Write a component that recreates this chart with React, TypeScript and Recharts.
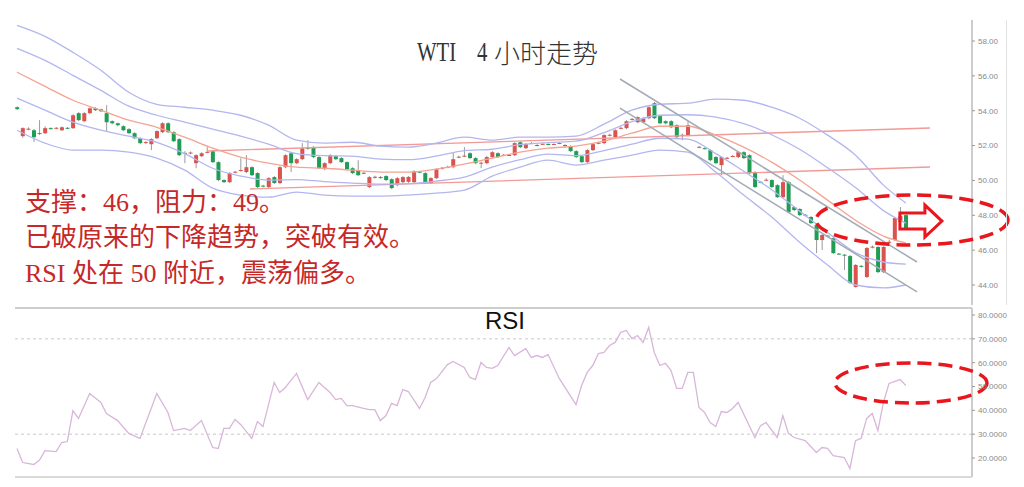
import React from "react";
import { ComposedChart, Bar, Line, XAxis, YAxis, ReferenceLine, ReferenceDot } from "recharts";

// WTI 4h candles: [open, high, low, close], null = empty slot
const CANDLES: ([number, number, number, number] | null)[] = [
  [54.2, 54.25, 54.05, 54.09], [52.54, 53.05, 52.45, 53.0], [52.95, 53.05, 52.88, 52.97], [52.88, 52.95, 52.2, 52.48],
  [52.68, 53.46, 52.6, 52.72], [52.71, 53.1, 52.65, 53.0], [53.0, 53.05, 52.92, 52.97], [52.98, 53.06, 52.94, 53.02],
  [52.88, 53.1, 52.83, 53.05], [53.02, 53.06, 52.94, 52.98], [53.0, 53.8, 52.95, 53.74], [53.86, 53.92, 53.4, 53.46],
  [53.4, 53.92, 53.34, 53.86], [53.86, 54.2, 53.8, 54.14], [54.14, 54.2, 53.98, 54.03], [54.08, 54.12, 53.92, 53.97],
  [53.86, 54.32, 52.83, 53.34], [53.4, 53.45, 53.22, 53.28], [53.28, 53.32, 53.1, 53.17], [53.11, 53.17, 52.83, 52.88],
  [52.94, 53.0, 52.65, 52.71], [52.71, 52.77, 52.37, 52.42], [52.42, 52.48, 52.08, 52.14], [52.17, 52.25, 52.1, 52.2],
  [52.08, 52.42, 51.74, 52.37], [52.42, 52.88, 52.37, 52.83], [52.77, 53.34, 52.71, 53.28], [53.28, 53.34, 52.71, 52.77],
  [52.77, 52.83, 52.2, 52.25], [52.37, 52.42, 51.4, 51.45], [51.58, 51.68, 50.99, 51.54], [51.56, 51.66, 51.5, 51.6],
  [50.99, 51.5, 50.7, 51.45], [51.39, 51.62, 51.34, 51.56], [51.6, 51.91, 51.56, 51.64], [51.68, 51.74, 51.0, 51.05],
  [51.05, 51.1, 49.96, 50.02], [50.02, 50.07, 49.85, 49.9], [49.9, 50.48, 49.85, 50.42], [50.46, 50.55, 50.4, 50.5],
  [50.57, 51.28, 50.5, 50.6], [50.48, 51.45, 50.42, 50.76], [50.76, 50.82, 50.25, 50.3], [50.42, 50.48, 49.56, 49.62],
  [49.7, 49.75, 49.6, 49.65], [49.62, 50.19, 49.56, 50.13], [50.19, 50.25, 49.8, 49.85], [49.85, 50.82, 49.79, 50.76],
  [50.76, 51.5, 50.7, 51.45], [51.56, 51.62, 50.48, 50.99], [50.99, 51.28, 50.93, 51.22], [51.22, 52.14, 51.16, 51.85],
  [51.88, 52.31, 51.76, 51.82], [51.91, 51.97, 51.28, 51.34], [51.34, 51.4, 50.65, 50.7], [50.65, 51.05, 50.59, 50.99],
  [50.99, 51.5, 50.93, 51.45], [51.39, 51.45, 51.16, 51.22], [51.28, 51.34, 51.0, 51.05], [51.05, 51.1, 50.59, 50.65],
  [50.7, 50.76, 50.36, 50.42], [50.59, 51.16, 50.25, 50.3], [50.4, 50.5, 50.36, 50.44], [49.62, 50.25, 49.56, 50.19],
  [50.17, 50.27, 50.1, 50.21], [50.19, 50.25, 50.1, 50.15], [50.25, 50.3, 49.96, 50.02], [50.07, 50.13, 49.5, 49.56],
  [49.73, 50.19, 49.67, 50.13], [49.9, 50.25, 49.85, 50.19], [49.92, 50.25, 49.86, 50.2], [49.9, 50.59, 49.85, 50.53],
  [50.5, 50.55, 50.42, 50.46], [50.42, 50.48, 49.8, 49.85], [49.85, 50.19, 49.8, 50.13], [50.13, 50.7, 50.07, 50.65],
  [50.68, 50.78, 50.62, 50.72], [50.74, 50.84, 50.7, 50.78], [50.76, 51.62, 50.7, 51.22], [51.32, 51.42, 51.28, 51.36],
  [51.38, 51.91, 51.34, 51.42], [51.56, 51.62, 51.22, 51.28], [51.28, 51.34, 50.93, 50.99], [50.99, 51.08, 50.7, 51.02],
  [50.99, 51.4, 50.93, 51.34], [51.34, 51.68, 51.28, 51.62], [51.56, 51.62, 51.28, 51.34], [51.45, 51.52, 51.4, 51.47],
  [51.46, 51.5, 51.4, 51.44], [51.45, 52.2, 51.4, 52.14], [52.19, 52.25, 51.85, 51.91], [51.85, 52.14, 51.8, 52.08],
  [52.13, 52.2, 52.08, 52.15], [52.03, 52.08, 51.96, 52.01], [52.08, 52.14, 52.03, 52.1], [52.09, 52.13, 52.02, 52.07],
  [52.07, 52.13, 52.02, 52.09], [52.13, 52.2, 52.08, 52.15], [52.03, 52.08, 51.95, 52.0], [51.97, 52.02, 51.62, 51.68],
  [51.68, 51.74, 51.28, 51.34], [51.39, 51.45, 50.99, 51.05], [51.05, 51.8, 50.99, 51.74], [51.74, 52.14, 51.68, 52.08],
  [52.13, 52.22, 52.08, 52.16], [52.14, 52.65, 52.08, 52.6], [52.58, 52.68, 52.53, 52.62], [52.48, 52.94, 52.42, 52.88],
  [52.98, 53.08, 52.93, 53.02], [53.0, 53.46, 52.94, 53.4], [53.49, 53.58, 53.44, 53.53], [53.34, 53.68, 53.28, 53.63],
  [53.34, 53.63, 53.28, 53.57], [53.57, 54.26, 53.51, 54.2], [54.43, 54.5, 53.51, 53.57], [53.69, 53.74, 53.22, 53.28],
  [53.4, 53.45, 53.22, 53.28], [53.4, 53.46, 53.0, 53.05], [53.17, 53.22, 52.42, 52.48], [52.6, 52.68, 52.31, 52.62],
  [52.6, 53.4, 52.54, 53.17], null, [51.9, 51.98, 51.85, 51.93], [51.85, 51.9, 51.78, 51.83],
  [51.74, 51.8, 51.1, 51.16], [51.34, 51.4, 50.93, 50.99], [50.88, 51.4, 50.3, 51.34], [51.28, 51.35, 51.22, 51.3],
  [51.38, 51.46, 51.33, 51.4], [51.34, 51.68, 51.28, 51.62], [51.62, 51.68, 51.22, 51.28], [51.45, 51.5, 50.36, 50.42],
  [50.48, 50.53, 49.56, 49.62], [49.92, 49.96, 49.84, 49.88], [50.02, 50.13, 49.96, 50.04], [50.02, 50.07, 49.56, 49.62],
  [49.73, 49.79, 48.99, 49.04], [49.04, 50.3, 48.99, 49.9], [49.9, 49.96, 48.13, 48.18], [48.47, 48.52, 48.24, 48.3],
  [48.36, 48.41, 47.96, 48.01], [48.03, 48.07, 47.95, 48.0], [47.9, 47.96, 47.5, 47.55], [47.44, 47.5, 45.83, 46.58],
  [46.58, 46.92, 46.01, 46.87], [46.83, 46.87, 46.75, 46.8], [46.69, 46.75, 45.78, 45.83], [45.8, 45.84, 45.72, 45.77],
  [45.74, 45.78, 44.86, 45.71], [45.66, 45.72, 44.06, 44.11], [43.89, 45.2, 43.84, 45.15], [45.1, 45.14, 45.0, 45.07],
  [44.46, 46.18, 44.4, 46.12], [46.16, 46.26, 46.1, 46.2], [46.18, 46.24, 44.68, 44.74], [44.74, 46.24, 44.68, 46.18],
  [46.44, 46.6, 46.38, 46.48], [46.58, 47.9, 46.52, 47.84], [47.61, 48.47, 47.55, 47.95], [48.01, 48.07, 47.2, 47.27],
];

// band readings, sampled every 5 candles
const BAND_IDX = [0, 5, 10, 15, 20, 25, 30, 35, 40, 45, 50, 55, 60, 65, 70, 75, 80, 85, 90, 95, 100, 105, 110, 115, 120, 125, 130, 135, 140, 145, 150, 155, 159];
const BAND_UP2 = [58.9, 58.27, 57.35, 56.32, 55.06, 54.37, 54.2, 54.03, 53.74, 53.17, 52.31, 52.14, 52.19, 51.97, 51.91, 52.14, 52.48, 52.31, 52.48, 52.48, 52.54, 53.23, 54.03, 54.37, 54.43, 54.66, 54.6, 54.2, 53.57, 52.6, 51.45, 49.73, 48.7];
const BAND_UP1 = [57.58, 56.89, 56.03, 55.17, 54.26, 53.74, 53.34, 52.94, 52.54, 52.08, 51.54, 51.42, 51.39, 51.22, 51.19, 51.39, 51.71, 51.79, 52.05, 52.17, 52.25, 52.74, 53.37, 53.74, 53.77, 53.63, 53.26, 52.62, 51.79, 50.73, 49.59, 48.27, 47.55];
const BAND_MID = [56.21, 55.4, 54.6, 54.03, 53.46, 53.05, 52.48, 51.85, 51.34, 50.99, 50.76, 50.7, 50.59, 50.48, 50.48, 50.65, 50.93, 51.28, 51.62, 51.85, 51.97, 52.25, 52.71, 53.11, 53.11, 52.6, 51.91, 51.05, 50.02, 48.87, 47.72, 46.81, 46.41];
const BAND_LO1 = [54.72, 54.03, 53.34, 52.88, 52.54, 52.19, 51.54, 50.7, 50.25, 50.02, 50.05, 49.93, 49.85, 49.79, 49.82, 49.96, 50.19, 50.76, 51.19, 51.51, 51.42, 51.71, 52.08, 52.42, 52.37, 51.54, 50.53, 49.47, 48.24, 47.01, 45.86, 45.32, 45.2];
const BAND_LO2 = [52.88, 52.14, 51.74, 51.74, 51.62, 51.28, 50.59, 49.56, 49.16, 49.04, 49.33, 49.16, 49.1, 49.1, 49.16, 49.27, 49.44, 50.25, 50.76, 51.16, 50.88, 51.16, 51.45, 51.74, 51.62, 50.48, 49.16, 47.9, 46.46, 45.15, 44.0, 43.83, 44.0];

// RSI vertices: [candle index, value]
const RSI_POINTS: [number, number][] = [
  [0, 24.0], [1, 18.1], [3, 17.3], [4, 19.0], [5, 23.1], [7, 22.7], [8, 26.5], [9, 26.9], [10, 39.9], [11, 36.6],
  [13, 47.1], [15, 43.3], [16, 38.7], [18, 35.7], [20, 30.3], [22, 28.2], [25, 47.1], [27, 39.1], [28, 31.5], [30, 32.4],
  [31, 31.5], [33, 35.7], [35, 24.4], [36, 24.0], [37, 32.4], [38, 32.4], [39, 36.2], [40, 34.1], [42, 28.2], [43, 35.3],
  [44, 33.2], [46, 51.7], [47, 47.5], [48, 49.6], [50, 55.5], [52, 44.5], [54, 51.7], [56, 47.5], [57, 44.5], [58, 45.0],
  [59, 42.0], [60, 42.0], [62, 40.8], [63, 40.3], [64, 40.3], [65, 35.7], [66, 37.8], [67, 42.9], [68, 42.0], [69, 48.7],
  [70, 47.9], [72, 40.8], [73, 45.4], [74, 51.7], [75, 53.2], [77, 59.2], [78, 60.5], [80, 58.0], [81, 53.8], [82, 52.9],
  [83, 60.1], [84, 58.0], [85, 57.6], [86, 58.8], [88, 66.4], [89, 63.0], [91, 65.9], [92, 62.2], [93, 63.0], [94, 62.2],
  [95, 63.4], [97, 53.4], [100, 42.4], [101, 50.4], [102, 55.9], [103, 58.8], [104, 63.8], [105, 64.3], [106, 67.2], [107, 68.5],
  [108, 72.7], [109, 73.5], [110, 70.1], [111, 71.4], [112, 68.5], [113, 74.8], [114, 64.3], [115, 58.8], [116, 59.7], [117, 56.7],
  [118, 49.2], [119, 49.2], [120, 55.9], [121, 55.9], [122, 41.2], [123, 39.1], [124, 34.9], [125, 33.2], [126, 39.5], [127, 39.1],
  [128, 40.8], [129, 43.3], [132, 28.6], [133, 33.6], [134, 34.9], [136, 28.6], [137, 37.8], [138, 30.3], [139, 28.6], [141, 27.3],
  [143, 22.3], [144, 24.4], [145, 24.0], [146, 21.0], [148, 20.2], [149, 15.6], [150, 27.3], [151, 28.2], [152, 36.6], [153, 38.7],
  [154, 31.5], [155, 43.3], [156, 51.3], [158, 52.9], [159, 50.4],
];

const PRICE_TICKS = [44, 46, 48, 50, 52, 54, 56, 58];
const RSI_TICKS = [20, 30, 40, 50, 60, 70, 80];

// drawn lines, [index, price] endpoints
const SIDEWAYS_LINES: [number, number][][] = [
  [[33.99, 51.69], [163.33, 53.01]],
  [[41.68, 49.51], [163.33, 50.77]],
];
const CHANNEL_LINES: [number, number][][] = [
  [[107.87, 55.82], [161.0, 45.32]],
  [[107.87, 54.15], [161.0, 43.6]],
];
const PRICE_CIRCLE: [number, number] = [160.11, 47.73];
const PRICE_ARROW: [number, number] = [161.7, 47.67];
const RSI_CIRCLE: [number, number] = [159.93, 51.47];

const TITLE_LATIN = ["WTI", "4"];
const TITLE_CJK = "小时走势";
const NOTES = ["支撑：46，阻力：49。", "已破原来的下降趋势，突破有效。", "RSI 处在 50 附近，震荡偏多。"];

const UP = "#d9534f";
const DOWN = "#1f9d55";
const WICK = "#9a9a9a";
const BLUE = "#b3b6ef";
const MID = "#f3a493";
const TREND = "#f29a96";
const CHANNEL = "#a3abb6";
const MARK = "#e8161d";
const X_DOMAIN: [number, number] = [-0.36, 170.84];

const rows = CANDLES.map((c, i) => {
  const row: any = { i };
  if (c) {
    row.o = c[0];
    row.h = c[1];
    row.l = c[2];
    row.c = c[3];
    row.range = [c[2], c[1]];
  }
  const k = BAND_IDX.indexOf(i);
  if (k >= 0) {
    row.u2 = BAND_UP2[k];
    row.u1 = BAND_UP1[k];
    row.m = BAND_MID[k];
    row.l1 = BAND_LO1[k];
    row.l2 = BAND_LO2[k];
  }
  return row;
});

const rsiRows = RSI_POINTS.map(([i, v]) => ({ i, v }));

function Candle(props: any) {
  const { x, y, width, height, payload } = props;
  if (!payload || payload.o == null || !height) return null;
  const k = height / (payload.h - payload.l);
  const yo = y + (payload.h - payload.o) * k;
  const yc = y + (payload.h - payload.c) * k;
  const cx = x + width / 2;
  return (
    <g>
      <line x1={cx} x2={cx} y1={y} y2={y + height} stroke={WICK} strokeWidth={1} />
      <rect
        x={x}
        y={Math.min(yo, yc)}
        width={width}
        height={Math.max(1, Math.abs(yc - yo))}
        fill={payload.c >= payload.o ? UP : DOWN}
      />
    </g>
  );
}

const ellipse = (rx: number, ry: number) => (p: any) => (
  <ellipse cx={p.cx} cy={p.cy} rx={rx} ry={ry} fill="none" stroke={MARK} strokeWidth={3.5} strokeDasharray="14 7" />
);

const arrow = (p: any) => {
  const { cx, cy } = p;
  const d = `M${cx - 21},${cy - 8} L${cx + 4},${cy - 8} L${cx + 4},${cy - 16} L${cx + 21},${cy} L${cx + 4},${cy + 16} L${cx + 4},${cy + 8} L${cx - 21},${cy + 8} Z`;
  return <path d={d} fill="none" stroke={MARK} strokeWidth={3} strokeLinejoin="miter" />;
};

const tickStyle = { fontSize: 8, fill: "#8a8a8a", fontFamily: '"Liberation Sans", Arial, sans-serif' };

// narrow serif latin, like the half-width glyphs of the source font
const narrow = {
  display: "inline-block",
  fontFamily: '"Liberation Serif", serif',
  fontSize: 28,
  transform: "scaleX(0.74)",
  transformOrigin: "left center",
} as const;

export default function App() {
  return (
    <div style={{ position: "relative", width: 1024, height: 487, background: "#fff", overflow: "hidden" }}>
      <style>{`body{margin:0}`}</style>

      <div style={{ position: "absolute", left: 0, top: 0 }}>
        <ComposedChart width={1024} height={310} data={rows} margin={{ top: 20, right: 0, bottom: 5, left: 15 }}>
          <XAxis dataKey="i" type="number" domain={X_DOMAIN} allowDataOverflow hide />
          <YAxis
            orientation="right"
            width={52}
            domain={[42.853, 59.205]}
            allowDataOverflow
            ticks={PRICE_TICKS}
            tickFormatter={(v: number) => v.toFixed(2)}
            tick={tickStyle}
            tickSize={3}
            tickMargin={3}
            axisLine={{ stroke: "#9a9a9a" }}
            tickLine={{ stroke: "#9a9a9a" }}
          />
          {SIDEWAYS_LINES.map((s, k) => (
            <ReferenceLine
              key={"s" + k}
              segment={[{ x: s[0][0], y: s[0][1] }, { x: s[1][0], y: s[1][1] }]}
              stroke={TREND}
              strokeWidth={1.4}
              ifOverflow="visible"
            />
          ))}
          <Line dataKey="u2" type="monotone" stroke={BLUE} strokeWidth={1.3} dot={false} connectNulls isAnimationActive={false} />
          <Line dataKey="u1" type="monotone" stroke={BLUE} strokeWidth={1.3} dot={false} connectNulls isAnimationActive={false} />
          <Line dataKey="m" type="monotone" stroke={MID} strokeWidth={1.3} dot={false} connectNulls isAnimationActive={false} />
          <Line dataKey="l1" type="monotone" stroke={BLUE} strokeWidth={1.3} dot={false} connectNulls isAnimationActive={false} />
          <Line dataKey="l2" type="monotone" stroke={BLUE} strokeWidth={1.3} dot={false} connectNulls isAnimationActive={false} />
          {CHANNEL_LINES.map((s, k) => (
            <ReferenceLine
              key={"c" + k}
              segment={[{ x: s[0][0], y: s[0][1] }, { x: s[1][0], y: s[1][1] }]}
              stroke={CHANNEL}
              strokeWidth={1.5}
              ifOverflow="visible"
            />
          ))}
          <Bar dataKey="range" barSize={4} shape={Candle} isAnimationActive={false} />
          <ReferenceDot x={PRICE_CIRCLE[0]} y={PRICE_CIRCLE[1]} r={1} ifOverflow="visible" shape={ellipse(96, 25)} />
          <ReferenceDot x={PRICE_ARROW[0]} y={PRICE_ARROW[1]} r={1} ifOverflow="visible" shape={arrow} />
        </ComposedChart>
      </div>

      <div style={{ position: "absolute", left: 0, top: 300 }}>
        <ComposedChart width={1024} height={185} data={rsiRows} margin={{ top: 8, right: 0, bottom: 8, left: 15 }}>
          <XAxis dataKey="i" type="number" domain={X_DOMAIN} allowDataOverflow hide />
          <YAxis
            orientation="right"
            width={52}
            domain={[12.03, 82.94]}
            allowDataOverflow
            ticks={RSI_TICKS}
            tickFormatter={(v: number) => v.toFixed(4)}
            tick={tickStyle}
            tickSize={3}
            tickMargin={3}
            axisLine={{ stroke: "#9a9a9a" }}
            tickLine={{ stroke: "#9a9a9a" }}
          />
          <ReferenceLine y={70} stroke="#c8c8c8" strokeDasharray="3 3" />
          <ReferenceLine y={30} stroke="#c8c8c8" strokeDasharray="3 3" />
          <Line dataKey="v" type="linear" stroke="#d8b6da" strokeWidth={1.3} dot={false} isAnimationActive={false} />
          <ReferenceDot x={RSI_CIRCLE[0]} y={RSI_CIRCLE[1]} r={1} ifOverflow="visible" shape={ellipse(76, 20)} />
        </ComposedChart>
      </div>

      <div style={{ position: "absolute", left: 15, top: 307, width: 957, height: 2, background: "#cdcdcd" }} />
      <div style={{ position: "absolute", left: 15, top: 476, width: 957, height: 2, background: "#dadada" }} />
      <div style={{ position: "absolute", left: 1006, top: 20, width: 1, height: 285, background: "#e2e2e2" }} />

      <div style={{ position: "absolute", left: 417, top: 38, height: 28, lineHeight: "28px", color: "#333", whiteSpace: "nowrap" }}>
        <span style={{ ...narrow, position: "absolute", left: 0, top: 0 }}>{TITLE_LATIN[0]}</span>
        <span style={{ ...narrow, position: "absolute", left: 60, top: 0 }}>{TITLE_LATIN[1]}</span>
        <span
          style={{
            position: "absolute",
            left: 77,
            top: 1,
            fontFamily: '"Noto Sans CJK SC", sans-serif',
            fontSize: 26,
            lineHeight: "26px",
            fontWeight: 300,
          }}
        >
          {TITLE_CJK}
        </span>
      </div>

      {NOTES.map((t, k) => (
        <div
          key={k}
          style={{
            position: "absolute",
            left: 25,
            top: [190, 225, 261][k],
            fontSize: 26,
            lineHeight: "26px",
            color: "#c62828",
            whiteSpace: "pre",
            fontFamily: '"Liberation Serif", "Noto Sans CJK SC", serif',
          }}
        >
          {t}
        </div>
      ))}

      <div
        style={{
          position: "absolute",
          left: 485,
          top: 309,
          fontSize: 24,
          lineHeight: "24px",
          color: "#111",
          fontFamily: '"Liberation Sans", Arial, sans-serif',
        }}
      >
        RSI
      </div>
    </div>
  );
}
